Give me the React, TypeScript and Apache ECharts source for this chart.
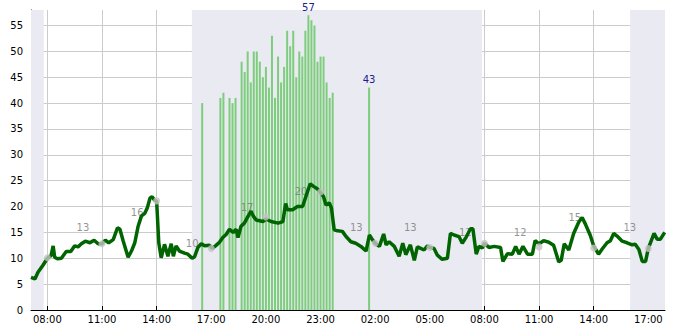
import React, { useEffect, useRef } from "react";
import * as echarts from "echarts";

// Dark green line (times HH:MM, rolling over midnight once)
const LINE_TIMES = [
  "07:06", "07:19", "07:29", "07:46", "08:00", "08:12", "08:19", "08:24", "08:33", "08:46",
  "09:02", "09:17", "09:30", "09:41", "09:52", "10:05", "10:20", "10:34", "10:47", "11:00",
  "11:11", "11:22", "11:37", "11:51", "11:59", "12:10", "12:26", "12:37", "12:48", "12:59",
  "13:10", "13:21", "13:29", "13:38", "13:45", "13:52", "14:00", "14:07", "14:15", "14:26",
  "14:37", "14:48", "14:55", "15:04", "15:15", "15:32", "15:43", "15:57", "16:05", "16:16",
  "16:27", "16:38", "16:54", "17:03", "17:14", "17:27", "17:38", "17:49", "18:00", "18:12",
  "18:22", "18:28", "18:38", "18:49", "19:01", "19:11", "19:19", "19:28", "19:50", "20:00",
  "20:17", "20:40", "20:56", "21:05", "21:11", "21:28", "21:44", "22:01", "22:12", "22:26",
  "22:37", "22:48", "23:00", "23:10", "23:18", "23:29", "23:36", "23:45", "23:56", "00:12",
  "00:24", "00:40", "00:56", "01:13", "01:30", "01:41", "01:52", "02:00", "02:14", "02:28",
  "02:36", "02:46", "03:03", "03:19", "03:31", "03:41", "03:56", "04:09", "04:19", "04:30",
  "04:41", "04:52", "05:00", "05:14", "05:25", "05:41", "05:58", "06:08", "06:20", "06:36",
  "06:47", "07:00", "07:14", "07:22", "07:33", "07:42", "07:53", "08:00", "08:15", "08:32",
  "08:53", "09:01", "09:16", "09:32", "09:43", "09:54", "10:07", "10:22", "10:38", "10:47",
  "11:00", "11:15", "11:32", "11:48", "12:05", "12:13", "12:23", "12:38", "12:54", "13:11",
  "13:22", "13:32", "13:49", "14:00", "14:16", "14:28", "14:44", "14:55", "15:06", "15:17",
  "15:34", "15:50", "16:07", "16:17", "16:29", "16:40", "16:51", "17:00", "17:19", "17:29",
  "17:40", "17:54",
];
const LINE_VALUES = [
  6.3, 6.0, 7.3, 8.7, 10.0, 10.5, 12.4, 10.2, 9.9, 10.0,
  11.3, 11.3, 12.4, 12.2, 12.8, 13.3, 13.0, 13.5, 12.8, 12.8,
  13.5, 13.0, 13.6, 15.9, 15.6, 13.3, 10.2, 11.4, 13.0, 16.2,
  18.2, 18.7, 19.7, 21.6, 21.9, 21.3, 21.0, 13.0, 10.1, 12.7,
  10.4, 12.8, 10.4, 12.4, 11.4, 11.0, 10.8, 10.0, 10.3, 12.1,
  12.8, 12.4, 12.5, 11.9, 12.4, 13.1, 14.0, 14.6, 15.6, 15.0,
  15.6, 14.0, 16.2, 16.8, 18.1, 19.1, 18.1, 17.4, 17.1, 17.6,
  17.1, 16.8, 17.1, 20.6, 19.4, 19.4, 20.0, 20.0, 22.0, 24.4,
  23.9, 23.5, 22.7, 21.9, 20.3, 20.7, 19.7, 15.5, 15.3, 15.2,
  14.2, 13.2, 12.9, 12.3, 11.4, 14.5, 13.5, 12.9, 12.3, 14.7,
  12.6, 13.2, 12.3, 10.4, 12.9, 10.7, 12.6, 9.6, 12.2, 11.9,
  11.6, 12.4, 12.1, 11.9, 10.6, 9.8, 10.0, 14.8, 14.5, 14.2,
  12.9, 14.1, 15.7, 15.7, 10.8, 12.3, 12.0, 12.9, 12.1, 12.3,
  12.1, 9.4, 10.9, 10.8, 12.3, 10.8, 12.3, 10.8, 10.8, 13.4,
  12.8, 13.4, 13.1, 12.5, 9.3, 9.6, 12.8, 11.6, 14.8, 17.0,
  17.9, 16.7, 14.4, 12.4, 10.8, 11.8, 13.0, 13.4, 14.8, 14.3,
  13.3, 13.0, 12.6, 12.7, 11.7, 9.4, 9.4, 11.9, 14.8, 13.7,
  13.7, 15.0,
];

// Light green bars (10-minute readings)
const BAR_TIMES = [
  "16:30", "17:30", "17:40", "18:00", "18:10", "18:20",
  "18:40", "18:50", "19:00", "19:10", "19:20", "19:30", "19:40", "19:50",
  "20:00", "20:10", "20:20", "20:30", "20:40", "20:50",
  "21:00", "21:10", "21:20", "21:30", "21:40", "21:50",
  "22:00", "22:10", "22:20", "22:30", "22:40", "22:50",
  "23:00", "23:10", "23:20", "23:30", "23:40", "01:40",
];
const BAR_VALUES = [
  40, 41, 42, 41, 40, 41,
  48, 46, 50, 44, 50, 50, 48, 45,
  47, 43, 53, 41, 49, 44,
  47, 54, 51, 54, 45, 50,
  49, 54, 57, 56, 55, 48,
  49, 49, 44, 41, 42, 43,
];
const BAR_LABEL_TIMES = ["22:20", "01:40"];

// Grey markers every three hours
const MARKER_TIMES = ["08:00", "11:00", "14:00", "17:00", "20:00", "23:00", "02:00", "05:00", "08:00", "11:00", "14:00", "17:00"];
const MARKER_VALUES = [10.1, 12.8, 21.1, 11.9, 18.0, 22.8, 12.9, 12.1, 12.9, 12.2, 12.0, 11.9];

// Grey value labels
const LABEL_TIMES = ["09:57", "12:56", "15:57", "18:58", "21:56", "00:58", "03:56", "06:57", "09:58", "12:58", "15:59"];
const LABEL_VALUES = [13, 16, 10, 17, 20, 13, 13, 12, 12, 15, 13];

// Shaded periods (start, end pairs)
const SHADE_TIMES = ["07:06", "07:48", "15:56", "07:52", "16:00", "17:55"];

// Axis range: day one 07:06 to day two 17:55
const AXIS_TIMES = ["07:06", "17:55"];
const AXIS_DAYS = [0, 1];
const Y_MAX = 58;
const Y_TICKS = 5;

// hours since 00:00 of day one, rolling over midnight
function toHours(times: string[]): number[] {
  let day = 0;
  let prev = -1;
  return times.map((t) => {
    const [hh, mm] = t.split(":").map(Number);
    let h = hh + mm / 60 + day * 24;
    if (h < prev) {
      day += 1;
      h += 24;
    }
    prev = h;
    return h;
  });
}
// axis unit = 3 hours, offset so that 08:00 falls on a whole unit
const toX = (h: number) => (h - 2) / 3;

export default function App() {
  const ref = useRef<HTMLDivElement>(null);
  useEffect(() => {
    document.body.style.margin = "0";
    if (!ref.current) return;
    const chart = echarts.init(ref.current, null, { renderer: "svg" });

    const lineH = toHours(LINE_TIMES);
    const barH = toHours(BAR_TIMES);
    const markerH = toHours(MARKER_TIMES);
    const labelH = toHours(LABEL_TIMES);
    const shadeH = toHours(SHADE_TIMES);
    const axisH = AXIS_TIMES.map((t, i) => {
      const [hh, mm] = t.split(":").map(Number);
      return hh + mm / 60 + AXIS_DAYS[i] * 24;
    });
    const barLabelIdx = BAR_LABEL_TIMES.map((t) => BAR_TIMES.lastIndexOf(t));

    const font = "DejaVu Sans";
    const areas: any[] = [];
    for (let i = 0; i < shadeH.length; i += 2) {
      areas.push([{ xAxis: toX(shadeH[i]) }, { xAxis: toX(shadeH[i + 1]) }]);
    }

    chart.setOption({
      animation: false,
      grid: { left: 31, right: 20, top: 10, bottom: 20, containLabel: false },
      xAxis: {
        type: "value",
        min: toX(axisH[0]),
        max: toX(axisH[1]),
        minInterval: 1,
        maxInterval: 1,
        splitNumber: 12,
        axisLine: { show: true, onZero: false, lineStyle: { color: "#000", width: 1 } },
        axisTick: { show: true, inside: true, length: 4, lineStyle: { color: "#000" } },
        axisLabel: {
          showMinLabel: false,
          showMaxLabel: false,
          color: "#000",
          fontSize: 10,
          fontFamily: font,
          margin: 4,
          formatter: (v: number) => {
            const h = Math.round(v * 3 + 2) % 24;
            return (h < 10 ? "0" : "") + h + ":00";
          },
        },
        splitLine: { show: true, showMinLine: false, showMaxLine: false, lineStyle: { color: "#cbcbcb", width: 1 } },
      },
      yAxis: {
        type: "value",
        min: 0,
        max: Y_MAX,
        interval: Y_TICKS,
        axisLine: { show: true, onZero: false, lineStyle: { color: "#000", width: 1 } },
        axisTick: { show: true, inside: true, length: 4, lineStyle: { color: "#000" } },
        minorTick: { show: true, splitNumber: 5, length: 3, lineStyle: { color: "#000" } },
        axisLabel: { showMaxLabel: false, color: "#000", fontSize: 10, fontFamily: font, margin: 8 },
        splitLine: { show: true, showMaxLine: false, lineStyle: { color: "#cbcbcb", width: 1 } },
      },
      series: [
        {
          type: "line",
          z: -1,
          silent: true,
          data: [[toX(axisH[0]), 0]],
          showSymbol: false,
          lineStyle: { opacity: 0 },
          markArea: {
            silent: true,
            itemStyle: { color: "#eaeaf2" },
            data: areas,
          },
        },
        {
          type: "bar",
          z: 2,
          barWidth: 2,
          itemStyle: { color: "#7dcd7d" },
          data: BAR_VALUES.map((v, i) => {
            const item: any = { value: [toX(barH[i]), v] };
            if (barLabelIdx.includes(i)) {
              item.label = {
                show: true,
                position: "top",
                distance: 3,
                color: "#1c1c8e",
                fontSize: 10,
                fontFamily: font,
                formatter: (p: any) => String(p.value[1]),
              };
            }
            return item;
          }),
        },
        {
          type: "scatter",
          z: 2,
          symbolSize: 0,
          silent: true,
          data: LABEL_VALUES.map((v, i) => [toX(labelH[i]), v]),
          label: {
            show: true,
            position: "top",
            distance: 10,
            color: "#787878",
            fontSize: 10,
            fontFamily: font,
            formatter: (p: any) => String(p.value[1]),
          },
        },
        {
          type: "line",
          z: 3,
          showSymbol: false,
          lineStyle: { color: "#006400", width: 3.5 },
          data: LINE_VALUES.map((v, i) => [toX(lineH[i]), v]),
        },
        {
          type: "scatter",
          z: 4,
          symbol: "circle",
          symbolSize: 7,
          itemStyle: { color: "#c4c4c4" },
          data: MARKER_VALUES.map((v, i) => [toX(markerH[i]), v]),
        },
      ],
    });
    return () => chart.dispose();
  }, []);
  return <div ref={ref} style={{ width: 685, height: 330 }} />;
}
